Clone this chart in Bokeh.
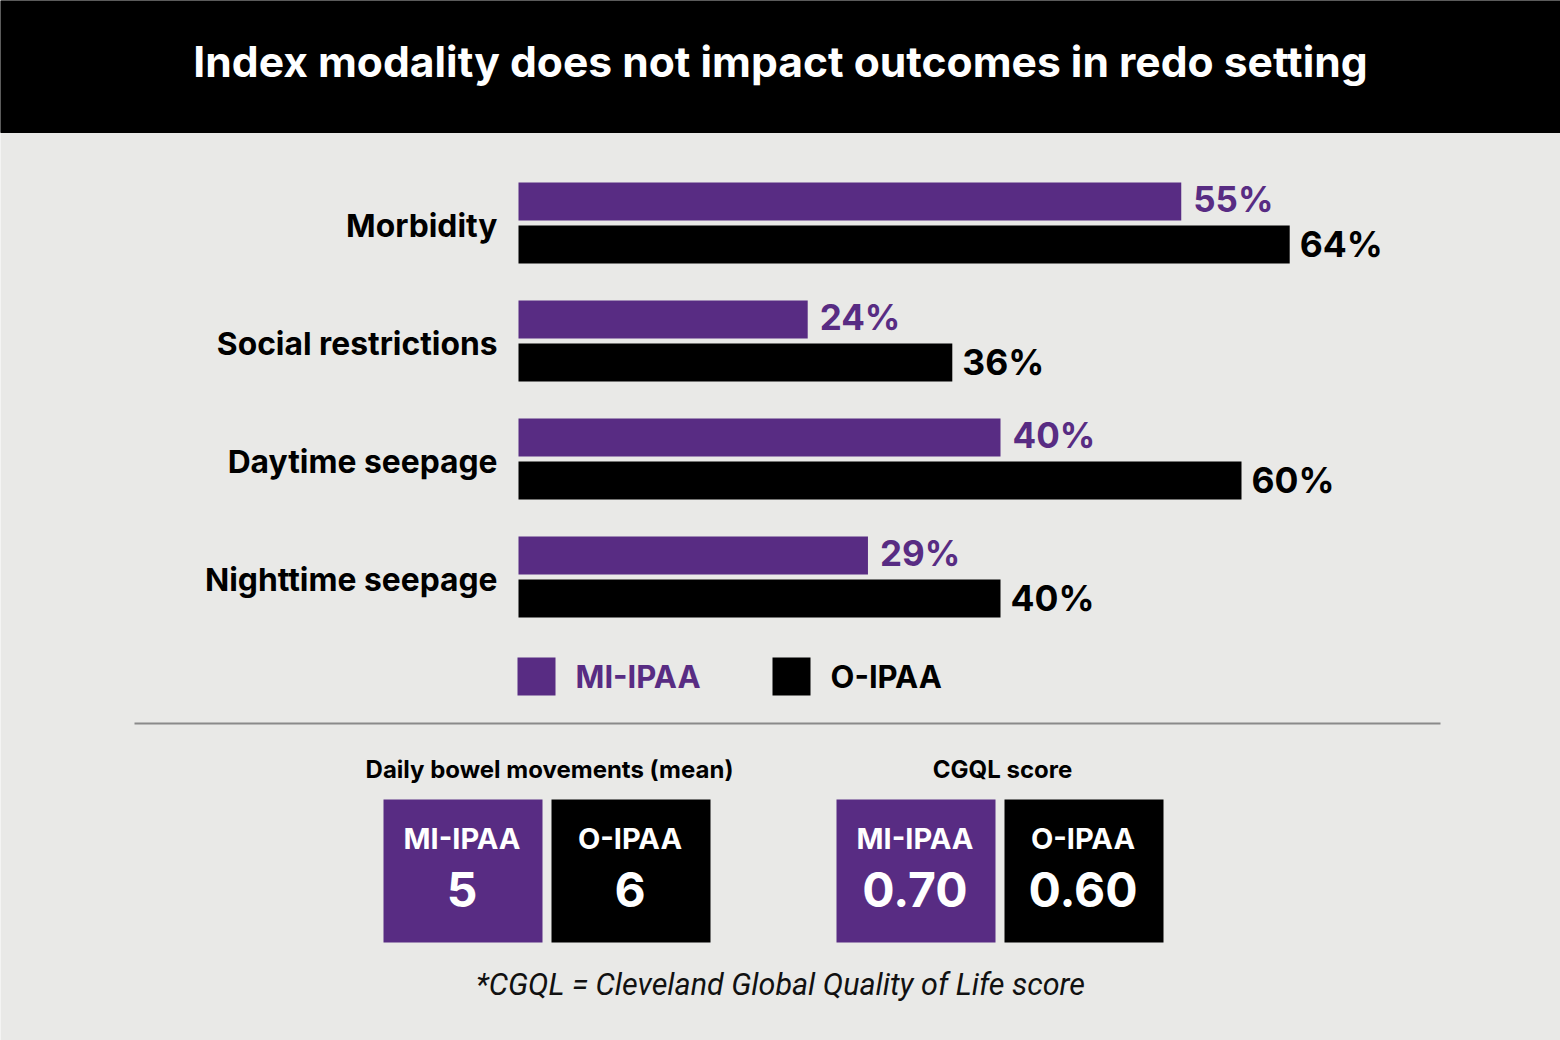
from bokeh.plotting import figure
from bokeh.models import Range1d, ColumnDataSource
from bokeh.core.properties import value
from bokeh.embed import file_html
from bokeh.resources import INLINE

# ---- data ----
title_text = "Index modality does not impact outcomes in redo setting"
categories = ["Morbidity", "Social restrictions", "Daytime seepage", "Nighttime seepage"]
series = ["MI-IPAA", "O-IPAA"]
mi_ipaa = [55, 24, 40, 29]
o_ipaa = [64, 36, 60, 40]
panel_titles = ["Daily bowel movements (mean)", "CGQL score"]
bowel_movements = [5, 6]
cgql_scores = [0.70, 0.60]
footnote = "*CGQL = Cleveland Global Quality of Life score"

# ---- style ----
W, H = 1560, 1040
BG = "#e9e9e7"
PURPLE = "#582c83"
BLACK = "#000000"
FONT = "Inter"
px_per_pct = 12.05
x0_px = 518

p = figure(width=W, height=H, output_backend="svg", toolbar_location=None,
           x_range=Range1d(-x0_px / px_per_pct, (W - x0_px) / px_per_pct),
           y_range=Range1d(H, 0), min_border=0)
p.axis.visible = False
p.grid.visible = False
p.outline_line_color = None
p.background_fill_color = BG
p.border_fill_color = BG
p.extra_x_ranges = {"px": Range1d(0, W)}

# header
p.quad(left=[0], right=[W], top=[0], bottom=[132], color=BLACK, x_range_name="px")
p.text(x=[W / 2], y=[61], text=[title_text], x_range_name="px",
       text_font=value(FONT), text_font_style="bold", text_font_size="42.6px",
       text_color="white", text_align="center", text_baseline="middle")

# bars
bar_h = 38
gap = 5
pitch = 118
top0 = 182
mi_top = [top0 + i * pitch for i in range(len(categories))]
o_top = [t + bar_h + gap for t in mi_top]
src = ColumnDataSource(dict(
    cat=categories, mi=mi_ipaa, o=o_ipaa,
    mi_top=mi_top, mi_bot=[t + bar_h for t in mi_top],
    o_top=o_top, o_bot=[t + bar_h for t in o_top],
    mi_mid=[t + bar_h / 2 - 3 for t in mi_top], o_mid=[t + bar_h / 2 for t in o_top],
    cat_mid=[t + bar_h + gap / 2 + 2 for t in mi_top],
    mi_lab=[f"{v}%" for v in mi_ipaa], o_lab=[f"{v}%" for v in o_ipaa],
    zero=[0] * len(categories),
))
p.quad(left="zero", right="mi", top="mi_top", bottom="mi_bot", source=src,
       fill_color=PURPLE, line_color=None)
p.quad(left="zero", right="o", top="o_top", bottom="o_bot", source=src,
       fill_color=BLACK, line_color=None)
p.text(x="mi", y="mi_mid", text="mi_lab", source=src, x_offset=12,
       text_font=value(FONT), text_font_style="bold", text_font_size="35px",
       text_color=PURPLE, text_baseline="middle")
p.text(x="o", y="o_mid", text="o_lab", source=src, x_offset=10,
       text_font=value(FONT), text_font_style="bold", text_font_size="35.5px",
       text_color=BLACK, text_baseline="middle")
p.text(x="zero", y="cat_mid", text="cat", source=src, x_offset=-21,
       text_font=value(FONT), text_font_style="bold", text_font_size="31.8px",
       text_color=BLACK, text_align="right", text_baseline="middle")

# legend
leg_colors = [PURPLE, BLACK]
leg_left = [517, 772]
p.quad(left=leg_left, right=[l + 38 for l in leg_left], top=[657, 657], bottom=[695, 695],
       fill_color=leg_colors, line_color=None, x_range_name="px")
p.text(x=[l + 58 for l in leg_left], y=[676, 676], text=series, x_range_name="px",
       text_font=value(FONT), text_font_style="bold", text_font_size="31px",
       text_color=leg_colors, text_baseline="middle")

# divider
p.segment(x0=[134], x1=[1440], y0=[723], y1=[723], line_color="#8a8a8a",
          line_width=2, x_range_name="px")

# bottom panels
panel_left = [383, 836]
panel_vals = [[str(v) for v in bowel_movements], [f"{v:.2f}" for v in cgql_scores]]
for pl, ptitle, vals in zip(panel_left, panel_titles, panel_vals):
    lefts = [pl, pl + 168]
    centers = [l + 78.5 for l in lefts]
    p.text(x=[pl + 166], y=[769], text=[ptitle], x_range_name="px",
           text_font=value(FONT), text_font_style="bold", text_font_size="24px",
           text_color=BLACK, text_align="center", text_baseline="middle")
    p.quad(left=lefts, right=[l + 159 for l in lefts], top=[799, 799], bottom=[942, 942],
           fill_color=leg_colors, line_color=None, x_range_name="px")
    p.text(x=centers, y=[838, 838], text=series, x_range_name="px",
           text_font=value(FONT), text_font_style="bold", text_font_size="29px",
           text_color="white", text_align="center", text_baseline="middle")
    p.text(x=centers, y=[889, 889], text=vals, x_range_name="px",
           text_font=value(FONT), text_font_style="bold", text_font_size="48px",
           text_color="white", text_align="center", text_baseline="middle")

p.text(x=[780], y=[984], text=[footnote], x_range_name="px",
       text_font=value("Roboto"), text_font_style="italic",
       text_font_size="30.5px", text_color="#111111", text_align="center",
       text_baseline="middle")

open("out.html", "w").write(file_html(p, INLINE))
